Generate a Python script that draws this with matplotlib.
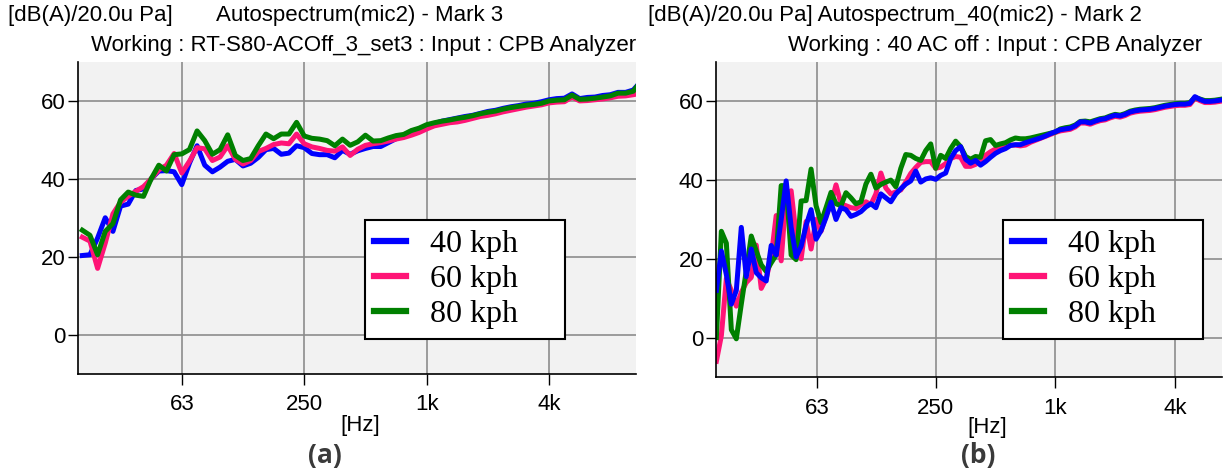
import numpy as np
import matplotlib
matplotlib.use("Agg")
import matplotlib.pyplot as plt
from matplotlib.lines import Line2D

plt.rcParams['font.family'] = ['Liberation Sans', 'DejaVu Sans']

W, H = 1226, 472

# fractional-octave band centres (Hz): 1/8 octave for (a), 1/12 octave for (b)
freq_a = 1000 * 2 ** (np.arange(-45, 29) / 8)
freq_b = 1000 * 2 ** (np.arange(-68, 35) / 12)

speeds = ['40 kph', '60 kph', '80 kph']
colors = {'40 kph': '#0000ff', '60 kph': '#ff1476', '80 kph': '#008000'}

# (a) Autospectrum(mic2) - Mark 3, dB(A)
a_40 = [20.3, 20.5, 24.8, 30.0, 26.5, 33.0, 33.5, 37.0, 37.4, 40.0,
        42.0, 42.1, 41.8, 38.5, 44.0, 48.5, 43.5, 41.8, 43.0, 44.5,
        45.0, 43.3, 44.0, 45.5, 47.5, 47.8, 46.3, 46.6, 48.5, 48.0,
        46.5, 46.2, 46.2, 45.4, 47.3, 46.3, 47.2, 47.8, 48.3, 48.3,
        49.3, 50.3, 51.2, 52.2, 52.8, 53.5, 54.2, 54.8, 55.2, 55.6,
        56.0, 56.3, 56.8, 57.3, 57.6, 58.1, 58.5, 58.8, 59.2, 59.4,
        59.8, 60.3, 60.6, 60.7, 61.8, 60.6, 60.9, 61.0, 61.4, 61.6,
        62.2, 62.2, 62.8, 65.0]
a_60 = [25.0, 24.0, 17.0, 23.5, 31.0, 34.0, 35.5, 36.8, 38.0, 40.0,
        42.3, 43.5, 46.5, 41.5, 44.5, 48.0, 47.7, 44.7, 45.6, 48.5,
        45.0, 43.8, 44.7, 47.0, 47.8, 48.8, 49.2, 49.0, 51.5, 49.0,
        48.2, 47.8, 47.3, 47.1, 48.2, 46.0, 47.6, 48.6, 49.0, 49.3,
        49.7, 50.2, 50.6, 51.2, 51.9, 52.8, 53.6, 54.0, 54.4, 54.6,
        55.0, 55.5, 56.0, 56.3, 56.7, 57.2, 57.6, 58.0, 58.4, 58.7,
        59.0, 59.5, 59.7, 59.8, 61.0, 60.0, 60.1, 60.3, 60.5, 60.8,
        61.2, 61.3, 61.6, 62.0]
a_80 = [26.8, 25.5, 20.5, 26.5, 28.5, 34.6, 36.6, 35.8, 35.5, 40.0,
        43.5, 42.0, 46.2, 46.4, 47.5, 52.3, 49.8, 46.3, 47.5, 51.3,
        46.0, 44.7, 45.2, 48.5, 51.5, 50.3, 51.5, 51.5, 54.5, 51.0,
        50.4, 50.2, 49.8, 48.5, 50.2, 48.6, 49.5, 51.2, 49.7, 49.8,
        50.5, 51.1, 51.4, 52.4, 53.0, 53.9, 54.4, 54.8, 55.1, 55.5,
        55.8, 56.2, 56.7, 57.1, 57.4, 57.9, 58.3, 58.6, 58.9, 59.1,
        59.4, 60.0, 60.2, 60.3, 61.5, 60.4, 60.5, 60.7, 61.0, 61.3,
        62.0, 62.0, 62.5, 65.0]

# (b) Autospectrum_40(mic2) - Mark 2, dB(A)
b_40 = [12.0, 22.0, 16.0, 8.5, 12.0, 28.0, 15.5, 22.5, 16.5, 15.2,
        14.4, 23.4, 21.0, 30.0, 39.8, 28.0, 20.5, 23.2, 28.5, 32.5,
        25.0, 27.2, 30.5, 34.4, 30.0, 33.0, 32.5, 30.8, 31.3, 32.0,
        33.2, 34.0, 33.0, 36.5, 35.5, 34.5, 36.5, 37.8, 39.0, 39.8,
        42.3, 39.5, 40.3, 40.6, 40.2, 41.2, 41.8, 45.5, 47.5, 48.5,
        45.3, 44.3, 45.0, 43.8, 44.7, 45.8, 46.8, 47.5, 48.0, 48.8,
        49.0, 49.0, 49.5, 49.9, 50.3, 50.7, 51.2, 51.8, 52.3, 52.8,
        53.0, 53.2, 53.8, 54.8, 54.8, 54.5, 55.0, 55.4, 55.6, 56.1,
        56.5, 56.3, 56.7, 57.3, 57.6, 57.8, 57.9, 58.0, 58.2, 58.5,
        58.8, 59.0, 59.2, 59.3, 59.3, 59.5, 61.2, 60.5, 60.0, 60.0,
        60.1, 60.3, 60.5]
b_60 = [-6.0, 0.5, 15.0, 12.0, 8.0, 11.5, 14.0, 15.3, 23.5, 12.5,
        15.0, 20.5, 31.0, 19.5, 36.5, 37.3, 26.0, 20.0, 29.5, 22.5,
        30.0, 27.0, 31.0, 34.0, 38.8, 34.0, 33.5, 33.0, 32.8, 33.8,
        34.5, 33.8, 36.5, 41.8, 38.0, 36.5, 37.0, 37.5, 39.5, 41.7,
        43.2, 44.5, 44.7, 44.7, 43.0, 43.3, 44.2, 45.5, 46.0, 45.8,
        43.5, 43.5, 44.0, 45.0, 46.3, 47.2, 47.9, 48.3, 48.6, 48.9,
        48.9, 48.7, 48.9, 49.6, 50.1, 50.6, 51.1, 51.6, 52.1, 52.5,
        52.7, 52.9, 53.5, 54.5, 54.5, 54.2, 54.7, 55.1, 55.3, 55.8,
        56.2, 56.0, 56.4, 57.0, 57.3, 57.5, 57.6, 57.7, 57.9, 58.2,
        58.5, 58.7, 58.9, 59.0, 59.0, 59.2, 60.8, 60.2, 59.7, 59.7,
        59.8, 60.0, 60.2]
b_80 = [0.0, 27.0, 24.0, 2.0, -0.3, 8.5, 17.0, 25.8, 22.0, 18.5,
        16.8, 19.0, 21.0, 38.6, 38.6, 21.0, 19.8, 34.7, 34.8, 42.8,
        33.5, 29.2, 33.0, 36.9, 34.0, 33.5, 36.8, 35.5, 34.0, 34.5,
        39.0, 41.5, 38.0, 38.9, 39.5, 40.0, 38.3, 43.0, 46.5, 46.3,
        45.5, 45.0, 47.5, 49.2, 43.0, 46.3, 45.5, 48.0, 49.9, 48.5,
        46.0, 45.3, 46.0, 45.8, 50.0, 50.3, 48.8, 49.2, 49.5, 50.2,
        50.7, 50.5, 50.5, 50.7, 51.0, 51.3, 51.6, 51.9, 52.2, 53.0,
        53.3, 53.5, 54.0, 54.9, 55.0, 54.8, 55.2, 55.6, 55.8, 56.3,
        56.7, 56.5, 56.9, 57.5, 57.8, 58.0, 58.1, 58.2, 58.4, 58.7,
        59.0, 59.2, 59.4, 59.5, 59.5, 59.7, 61.0, 60.6, 60.2, 60.2,
        60.3, 60.5, 60.7]

xticks = [63, 250, 1000, 4000]
xticklabels = ['63', '250', '1k', '4k']
yticks = [0, 20, 40, 60]


def style_axes(ax, xlim):
    ax.set_facecolor('#f2f2f2')
    ax.set_xscale('log')
    ax.set_xlim(*xlim)
    ax.set_ylim(-10, 70)
    ax.set_xticks(xticks)
    ax.set_xticklabels(xticklabels)
    ax.xaxis.set_minor_locator(matplotlib.ticker.NullLocator())
    ax.set_yticks(yticks)
    ax.grid(True, color='#8c8c8c', linewidth=1.2)
    ax.set_axisbelow(True)
    for side in ('top', 'right'):
        ax.spines[side].set_visible(False)
    for side in ('left', 'bottom'):
        ax.spines[side].set_color('black')
        ax.spines[side].set_linewidth(1.2)
    ax.tick_params(axis='y', direction='out', length=7, width=1,
                   labelsize=16, pad=2)
    ax.tick_params(axis='x', direction='out', length=8, width=1,
                   labelsize=16, pad=7)


def add_legend(ax, anchor):
    handles = [Line2D([], [], color=colors[s], lw=4.5) for s in speeds]
    leg = ax.legend(handles, speeds, loc='upper left', bbox_to_anchor=anchor,
                    mode='expand', fancybox=False, framealpha=1,
                    edgecolor='black', handlelength=1.0, handletextpad=0.75,
                    labelspacing=0.18, borderpad=0.3, borderaxespad=0,
                    prop={'family': 'Liberation Serif', 'size': 23})
    leg.get_frame().set_linewidth(1.5)
    leg.set_zorder(5)


fig = plt.figure(figsize=(W / 100, H / 100), dpi=100)
ax1 = fig.add_axes([78 / W, 1 - 373.5 / H, 558 / W, 311.5 / H])
ax2 = fig.add_axes([716 / W, 1 - 377 / H, 506 / W, 315 / H])

style_axes(ax1, (19.3, 10700))
style_axes(ax2, (19.6, 6900))

lw = 3.6
for s, vals in (('40 kph', a_40), ('60 kph', a_60), ('80 kph', a_80)):
    ax1.plot(freq_a, vals, color=colors[s], lw=lw, solid_joinstyle='round')
for s, vals in (('60 kph', b_60), ('80 kph', b_80), ('40 kph', b_40)):
    ax2.plot(freq_b, vals, color=colors[s], lw=lw, solid_joinstyle='round')

add_legend(ax1, (0.514, 0.0, 0.358, 0.493))
add_legend(ax2, (0.567, 0.0, 0.395, 0.498))

# headers above each panel
hdr = dict(fontsize=16, va='center', ha='left')
fig.text(8 / W, 1 - 15 / H, '[dB(A)/20.0u Pa]', **hdr)
fig.text(216 / W, 1 - 15 / H, 'Autospectrum(mic2) - Mark 3', **hdr)
fig.text(636 / W, 1 - 45 / H,
         'Working : RT-S80-ACOff_3_set3 : Input : CPB Analyzer',
         fontsize=16, va='center', ha='right')
fig.text(648 / W, 1 - 15 / H,
         '[dB(A)/20.0u Pa] Autospectrum_40(mic2) - Mark 2', **hdr)
fig.text(1202 / W, 1 - 45 / H, 'Working : 40 AC off : Input : CPB Analyzer',
         fontsize=16, va='center', ha='right')

# axis units and panel tags
fig.text(360 / W, 1 - 425 / H, '[Hz]', fontsize=16, ha='center', va='center')
fig.text(987 / W, 1 - 427 / H, '[Hz]', fontsize=16, ha='center', va='center')
tag = dict(fontsize=19, fontweight='bold', family='Open Sans',
           color='#3a3a3a', ha='center', va='center')
fig.text(325 / W, 1 - 455 / H, '(a)', **tag)
fig.text(978 / W, 1 - 455 / H, '(b)', **tag)

fig.savefig('out.png', dpi=100)
